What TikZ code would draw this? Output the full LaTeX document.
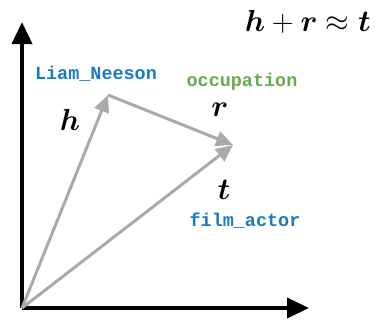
\documentclass[tikz,border=0pt]{standalone}
\usepackage{amsmath}
\usepackage{bm}
\usepackage{fontspec}
\setmonofont{Liberation Mono}
\usetikzlibrary{arrows.meta, positioning}

\definecolor{entblue}{HTML}{1A7BC4}
\definecolor{relgreen}{HTML}{6AAA4A}
\definecolor{vecgray}{HTML}{AAAAAA}

\begin{document}
\begin{tikzpicture}[
    x=0.02cm, y=-0.02cm,
    axis/.style={line width=2.2pt, -{Triangle[length=4.4mm, width=4mm]}},
    vec/.style={draw=vecgray, line width=1.7pt, -{Triangle[length=3.4mm, width=3mm]}},
    entity/.style={font=\ttfamily\bfseries\fontsize{10.5}{12}\selectfont, text=entblue, inner sep=0pt},
    relation/.style={entity, text=relgreen},
    sym/.style={font=\fontsize{19}{22}\selectfont, inner sep=0pt},
  ]
  \useasboundingbox (0,0) rectangle (375,322);

  % points
  \coordinate (origin) at (22,308);
  \coordinate (yend)   at (22,22);
  \coordinate (xend)   at (309,308);
  \coordinate (head)   at (108,95);
  \coordinate (tail)   at (233,145);

  % axes
  \draw[axis] (origin.center) -- (yend);
  \draw[axis] (origin.center) -- (xend);

  % vectors
  \draw[vec] (origin) -- (head);
  \draw[vec] (head) -- (tail);
  \draw[vec] (origin) -- (tail);

  % labels
  \node[sym] (hlbl) at (70,120) {$\bm{h}$};
  \node[sym] (rlbl) at (220,110) {$\bm{r}$};
  \node[sym] (tlbl) at (224,190) {$\bm{t}$};
  \node[sym, anchor=east] (eqn) at (371,22) {$\bm{h}+\bm{r}\approx\bm{t}$};

  \node[entity]   (liam)  at (96,74)  {Liam\_Neeson};
  \node[relation] (occ)   at (242,82) {occupation};
  \node[entity]   (actor) at (245,221) {film\_actor};
\end{tikzpicture}
\end{document}
